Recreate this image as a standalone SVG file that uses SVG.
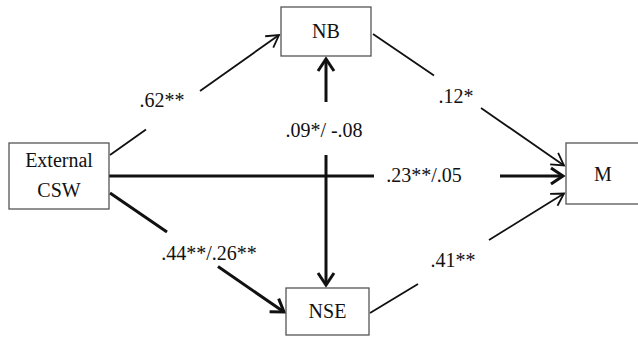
<svg xmlns="http://www.w3.org/2000/svg" width="638" height="337" viewBox="0 0 638 337">
<style>
.box{fill:#fff;stroke:#555;stroke-width:1.3}
.t{font-family:"Liberation Serif","Times New Roman",serif;font-size:20px;fill:#111;text-anchor:middle}
.thin{stroke:#111;stroke-width:1.8;fill:none}
.thick{stroke:#111;stroke-width:3;fill:none}
</style>
<defs>
<marker id="ah1" markerUnits="userSpaceOnUse" viewBox="-16 -10 20 20" refX="0" refY="0" markerWidth="20" markerHeight="20" orient="auto" overflow="visible">
<path d="M-12,-7 L0,0 L-12,7" fill="none" stroke="#111" stroke-width="1.8"/>
</marker>
<marker id="ah2" markerUnits="userSpaceOnUse" viewBox="-16 -10 20 20" refX="0" refY="0" markerWidth="20" markerHeight="20" orient="auto" overflow="visible">
<path d="M-12,-8 L0,0 L-12,8" fill="none" stroke="#111" stroke-width="3"/>
</marker>
</defs>
<g id="connectors">
<line class="thin" x1="110" y1="155" x2="146" y2="129.4"/>
<line class="thin" x1="200" y1="91" x2="279" y2="35" marker-end="url(#ah1)"/>
<line class="thin" x1="373" y1="34" x2="434" y2="75.5"/>
<line class="thin" x1="481" y1="108" x2="564" y2="165.5" marker-end="url(#ah1)"/>
<line class="thick" x1="109" y1="176" x2="374" y2="176"/>
<line class="thick" x1="500" y1="176" x2="563" y2="176" marker-end="url(#ah2)"/>
<line class="thick" x1="110" y1="193" x2="167" y2="232"/>
<line class="thick" x1="218" y1="266.5" x2="284" y2="312" marker-end="url(#ah2)"/>
<line class="thin" x1="370" y1="313" x2="418" y2="284"/>
<line class="thin" x1="489" y1="240" x2="564" y2="193.5" marker-end="url(#ah1)"/>
<line class="thick" x1="326" y1="102" x2="326" y2="59" marker-end="url(#ah2)"/>
<line class="thick" x1="326" y1="155" x2="326" y2="285" marker-end="url(#ah2)"/>
</g>
<g id="external-csw">
<rect class="box" x="9" y="143" width="100" height="66"/>
<text class="t" x="59" y="167">External</text>
<text class="t" x="59" y="197">CSW</text>
</g>
<g id="nb">
<rect class="box" x="281" y="7" width="90" height="49"/>
<text class="t" x="326" y="38">NB</text>
</g>
<g id="nse">
<rect class="box" x="286" y="288" width="83" height="47"/>
<text class="t" x="327.5" y="318">NSE</text>
</g>
<g id="m">
<rect class="box" x="566" y="143" width="74" height="61"/>
<text class="t" x="603" y="181">M</text>
</g>
<g id="labels">
<text class="t" x="162" y="107">.62**</text>
<text class="t" x="456" y="103">.12*</text>
<text class="t" x="324" y="137">.09*/ -.08</text>
<text class="t" x="424" y="182">.23**/.05</text>
<text class="t" x="209" y="260">.44**/.26**</text>
<text class="t" x="453" y="267">.41**</text>
</g>
</svg>
